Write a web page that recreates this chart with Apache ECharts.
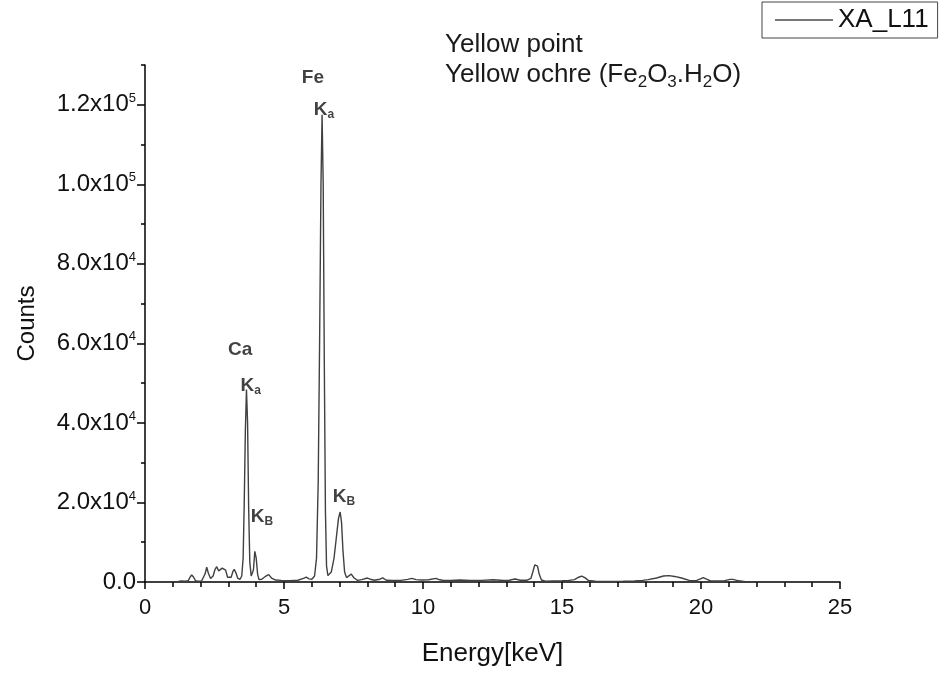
<!DOCTYPE html>
<html>
<head>
<meta charset="utf-8">
<script src="https://cdn.jsdelivr.net/npm/echarts@6/dist/echarts.min.js"></script>
<style>
html,body{margin:0;padding:0;background:#fff;}
#chart{width:951px;height:673px;}
</style>
</head>
<body>
<div id="chart"></div>
<script>
// Spectrum XA_L11 : energy (keV) and counts
const energy = [0.55,0.8,1.0,1.2,1.3,1.37,1.45,1.55,1.62,1.68,1.75,1.82,1.9,1.97,2.03,2.1,2.16,2.22,2.28,2.36,2.45,2.52,2.58,2.65,2.72,2.78,2.84,2.9,2.97,3.03,3.1,3.16,3.21,3.27,3.34,3.42,3.48,3.53,3.57,3.61,3.65,3.69,3.73,3.77,3.82,3.86,3.9,3.95,4.0,4.05,4.1,4.2,4.35,4.45,4.55,4.7,4.9,5.2,5.5,5.7,5.8,5.9,6.0,6.1,6.17,6.23,6.28,6.33,6.37,6.41,6.45,6.49,6.53,6.58,6.63,6.7,6.8,6.88,6.96,7.02,7.07,7.12,7.18,7.25,7.32,7.42,7.52,7.65,7.8,8.0,8.1,8.25,8.45,8.55,8.68,8.9,9.2,9.45,9.6,9.75,9.95,10.2,10.47,10.6,10.75,11.0,11.33,11.7,12.1,12.53,12.9,13.1,13.31,13.5,13.75,13.88,13.95,14.02,14.07,14.12,14.18,14.26,14.4,14.7,15.0,15.2,15.45,15.6,15.71,15.82,15.95,16.2,16.7,17.2,17.6,17.9,18.1,18.4,18.65,18.85,19.05,19.3,19.6,19.85,19.98,20.08,20.2,20.35,20.6,20.85,21.05,21.15,21.35,21.6,21.8,22.5,23.5,24.5,24.8];
const counts = [0,50,80,150,250,500,200,300,1200,1800,1200,300,200,500,200,300,2000,3700,2200,900,1500,3200,3850,2800,2700,3500,3850,3000,1200,700,1200,2600,3200,2300,900,700,1500,6000,20000,38000,48400,40000,18000,5000,1500,1000,3000,7700,6000,2000,600,700,1500,1850,1000,500,400,350,450,900,1200,800,700,1500,6000,25000,60000,100000,117500,100000,55000,18000,4000,1600,1400,2500,6000,11000,16000,17600,15000,8000,2500,1100,1200,2000,1000,420,600,1000,700,450,700,1050,450,400,400,650,900,600,500,550,900,550,380,420,500,380,420,580,380,450,750,450,450,900,2500,4300,4800,4000,2000,500,200,250,300,350,600,1200,1500,1100,400,200,150,200,250,400,600,1000,1500,1600,1400,1000,350,400,800,1100,700,250,250,350,650,650,300,100,30,20,30,20,0];

const xTickValues = [0, 5, 10, 15, 20, 25];
const yTickValues = [0, 20000, 40000, 60000, 80000, 100000, 120000];

// Peak annotations
const peakText = ['Ca', 'Ka', 'KB', 'Fe', 'Ka', 'KB'];
const peakEnergy = [3.42, 3.80, 4.21, 6.04, 6.44, 7.16];
const peakCounts = [58400, 49300, 16350, 126800, 118750, 21400];

const seriesName = 'XA_L11';

const chart = echarts.init(document.getElementById('chart'), null, {renderer: 'canvas'});
const FONT = '"Liberation Sans", Arial, sans-serif';

function yFmt(v) {
  if (v === 0) return '{n|0.0}';
  const e = Math.floor(Math.log10(v) + 1e-9);
  const m = v / Math.pow(10, e);
  return '{n|' + m.toFixed(1) + 'x10}{sup|' + e + '}';
}

function peakFmt(p) {
  const t = p.data[2];
  if (t === 'Ka') return '{k|K}{s|a}';
  if (t === 'KB') return '{k|K}{s|B}';
  return '{el|' + t + '}';
}

const lineData = energy.map((e, i) => [e, counts[i]]);
const labelData = peakText.map((t, i) => [peakEnergy[i], peakCounts[i], t]);

const option = {
  backgroundColor: '#ffffff',
  animation: false,
  textStyle: {fontFamily: FONT},
  grid: [
    {left: 145, right: 111, top: 65, bottom: 91, containLabel: false},
    {left: 145, right: 111, top: 65, bottom: 91, containLabel: false}
  ],
  legend: {
    data: [{name: seriesName, icon: 'rect'}],
    left: 762, top: 2,
    orient: 'horizontal',
    borderColor: '#444', borderWidth: 1,
    padding: [5, 9, 5, 13],
    itemWidth: 58, itemHeight: 1.3,
    itemStyle: {color: '#4a4a4a'},
    textStyle: {fontFamily: FONT, fontSize: 26, color: '#111'}
  },
  xAxis: [{
    type: 'value', gridIndex: 0, min: 0, max: 25, interval: 5,
    axisLine: {show: true, onZero: false, lineStyle: {color: '#000', width: 1.5}},
    axisTick: {show: true, inside: false, length: 7, lineStyle: {color: '#000', width: 1.5}},
    minorTick: {show: true, splitNumber: 5, length: 5, lineStyle: {color: '#000', width: 1.5}},
    axisLabel: {fontFamily: FONT, fontSize: 22, color: '#111', margin: 15},
    splitLine: {show: false},
    name: 'Energy[keV]', nameLocation: 'middle', nameGap: 59,
    nameTextStyle: {fontFamily: FONT, fontSize: 26, color: '#111'}
  }, {
    type: 'value', gridIndex: 1, min: 0, max: 25, show: false
  }],
  yAxis: [{
    type: 'value', gridIndex: 0, min: 0, max: 130000, interval: 20000,
    axisLine: {show: true, onZero: false, lineStyle: {color: '#000', width: 1.5}},
    axisTick: {show: true, length: 8, customValues: yTickValues, lineStyle: {color: '#000', width: 1.5}},
    axisLabel: {
      customValues: yTickValues,
      formatter: yFmt, margin: 9, color: '#111',
      rich: {
        n: {fontFamily: FONT, fontSize: 24, color: '#111'},
        sup: {fontFamily: FONT, fontSize: 13, color: '#111', padding: [0, 0, 13, 0]}
      }
    },
    splitLine: {show: false},
    name: 'Counts', nameLocation: 'middle', nameGap: 106, nameRotate: 90,
    nameTextStyle: {fontFamily: FONT, fontSize: 24, color: '#111'}
  }, {
    type: 'value', gridIndex: 1, min: 0, max: 130000, interval: 10000,
    axisLine: {show: false},
    axisTick: {show: true, length: 4, lineStyle: {color: '#000', width: 1.5}},
    axisLabel: {show: false},
    splitLine: {show: false}
  }],
  graphic: [
    {type: 'text', left: 445, top: 32, style: {
      text: 'Yellow point', font: '26px ' + FONT, fill: '#1a1a1a'}},
    {type: 'text', left: 445, top: 62, style: {
      text: '{a|Yellow ochre (Fe}{s|2}{a|O}{s|3}{a|.H}{s|2}{a|O)}',
      rich: {
        a: {fontFamily: FONT, fontSize: 26, fill: '#1a1a1a', color: '#1a1a1a'},
        s: {fontFamily: FONT, fontSize: 17, fill: '#1a1a1a', color: '#1a1a1a', padding: [14, 0, 0, 0]}
      }}}
  ],
  series: [{
    name: seriesName, type: 'line', xAxisIndex: 0, yAxisIndex: 0,
    data: lineData, symbol: 'none', showSymbol: false,
    lineStyle: {color: '#404040', width: 1.4},
    itemStyle: {color: '#404040'},
    smooth: false, silent: true
  }, {
    name: 'peaks', type: 'scatter', xAxisIndex: 0, yAxisIndex: 0,
    data: labelData, symbolSize: 0, silent: true,
    label: {
      show: true, position: 'inside', formatter: peakFmt,
      rich: {
        el: {fontFamily: FONT, fontSize: 19, fontWeight: 'bold', color: '#111'},
        k: {fontFamily: FONT, fontSize: 19, fontWeight: 'bold', color: '#111'},
        s: {fontFamily: FONT, fontSize: 12, fontWeight: 'bold', color: '#111', padding: [10, 0, 0, 0]}
      }
    }
  }]
};
chart.setOption(option);
</script>
</body>
</html>
